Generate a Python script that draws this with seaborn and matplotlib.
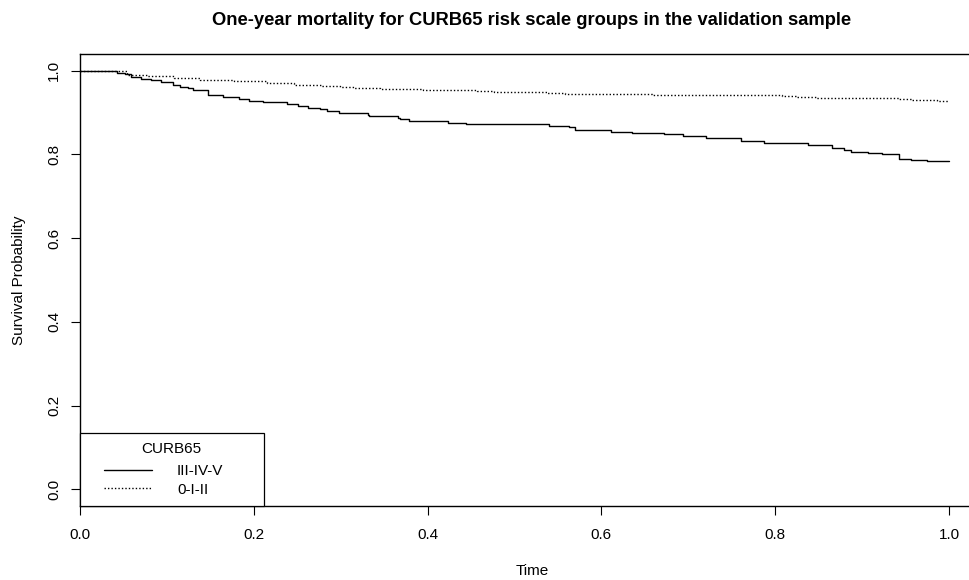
import matplotlib
matplotlib.use("Agg")
import matplotlib.pyplot as plt
import seaborn as sns
import pandas as pd
from matplotlib.lines import Line2D
from matplotlib.legend_handler import HandlerLine2D

# ---- data ----
high_time = [0.0, 0.043, 0.0525, 0.0594, 0.0701, 0.0816, 0.0931, 0.107, 0.115, 0.1246,
             0.1307, 0.1476, 0.1652, 0.1828, 0.1944, 0.2112, 0.238, 0.2507, 0.262, 0.276,
             0.284, 0.298, 0.331, 0.333, 0.366, 0.368, 0.379, 0.423, 0.444, 0.540,
             0.5624, 0.570, 0.611, 0.635, 0.6716, 0.6935, 0.7207, 0.760, 0.787, 0.838,
             0.865, 0.879, 0.8874, 0.907, 0.923, 0.942, 0.9557, 0.975, 1.0]
high_surv = [1.0, 0.995, 0.993, 0.985, 0.980, 0.977, 0.973, 0.967, 0.962, 0.958,
             0.953, 0.943, 0.938, 0.933, 0.927, 0.925, 0.920, 0.9155, 0.9115, 0.9075,
             0.9045, 0.900, 0.895, 0.891, 0.888, 0.884, 0.879, 0.875, 0.872, 0.8686,
             0.8645, 0.859, 0.854, 0.852, 0.848, 0.844, 0.839, 0.832, 0.827, 0.8215,
             0.816, 0.811, 0.8065, 0.8024, 0.800, 0.790, 0.7864, 0.7833, 0.7833]

low_time = [0.0, 0.054, 0.077, 0.108, 0.138, 0.177, 0.215, 0.246, 0.278, 0.299,
            0.315, 0.345, 0.395, 0.457, 0.476, 0.5375, 0.5585, 0.658, 0.808, 0.825,
            0.8465, 0.8637, 0.942, 0.957, 0.986, 1.0]
low_surv = [1.0, 0.991, 0.987, 0.982, 0.979, 0.976, 0.971, 0.966, 0.963, 0.961,
            0.958, 0.957, 0.9545, 0.952, 0.950, 0.947, 0.945, 0.9427, 0.940, 0.938,
            0.936, 0.934, 0.932, 0.930, 0.927, 0.927]

group_labels = ["III-IV-V", "0-I-II"]
legend_title = "CURB65"
title = "One-year mortality for CURB65 risk scale groups in the validation sample"
x_label = "Time"
y_label = "Survival Probability"
x_ticks = [0.0, 0.2, 0.4, 0.6, 0.8, 1.0]
y_ticks = [0.0, 0.2, 0.4, 0.6, 0.8, 1.0]

df_high = pd.DataFrame({"time": high_time, "surv": high_surv})
df_low = pd.DataFrame({"time": low_time, "surv": low_surv})

# ---- style ----
sns.set_style("white")
plt.rcParams["font.family"] = ["Liberation Sans", "DejaVu Sans"]
plt.rcParams["text.color"] = "black"
plt.rcParams["axes.labelcolor"] = "black"
plt.rcParams["xtick.color"] = "black"
plt.rcParams["ytick.color"] = "black"

FS = 11
DOTS = (0, (1, 1.5))

fig = plt.figure(figsize=(9.7, 5.8), dpi=100)
ax = fig.add_axes([0.0822, 0.1276, 0.9322, 0.7793])

sns.lineplot(data=df_high, x="time", y="surv", ax=ax, color="black",
             linewidth=1.0, linestyle="-", drawstyle="steps-post",
             estimator=None, sort=False)
sns.lineplot(data=df_low, x="time", y="surv", ax=ax, color="black",
             linewidth=1.0, linestyle=DOTS, drawstyle="steps-post",
             estimator=None, sort=False)

ax.set_xlim(0, 1.04)
ax.set_ylim(-0.04, 1.04)
ax.set_xticks(x_ticks)
ax.set_xticklabels([f"{v:.1f}" for v in x_ticks], fontsize=FS)
ax.set_yticks(y_ticks)
ax.set_yticklabels([f"{v:.1f}" for v in y_ticks], fontsize=FS, rotation=90, va="center")
ax.tick_params(axis="both", which="both", direction="out", length=6.5, width=0.8,
               color="black", left=True, bottom=True)
ax.tick_params(axis="x", pad=9)
ax.tick_params(axis="y", pad=7)

for side in ["top", "left", "bottom"]:
    ax.spines[side].set_visible(True)
    ax.spines[side].set_color("black")
    ax.spines[side].set_linewidth(1.0)
ax.spines["right"].set_visible(False)

ax.set_xlabel(x_label, fontsize=FS, labelpad=16)
ax.set_ylabel(y_label, fontsize=FS, labelpad=15)
ax.set_title(title, fontsize=13.2, fontweight="bold", pad=21)


class ShiftedLineHandler(HandlerLine2D):
    def __init__(self, shift, **kw):
        super().__init__(**kw)
        self.shift = shift

    def create_artists(self, legend, orig_handle, xdescent, ydescent, width,
                       height, fontsize, trans):
        return super().create_artists(legend, orig_handle, xdescent - self.shift,
                                      ydescent, width - self.shift, height,
                                      fontsize, trans)


handles = [Line2D([], [], color="black", linewidth=1.0, linestyle="-"),
           Line2D([], [], color="black", linewidth=1.0, linestyle=DOTS)]
hmap = {h: ShiftedLineHandler(10.5) for h in handles}
leg = ax.legend(handles, group_labels, title=legend_title, loc="lower left",
                bbox_to_anchor=(0, 0, 0.2035, 0.3), mode="expand",
                borderaxespad=0, fancybox=False, fontsize=FS, title_fontsize=FS,
                handlelength=4.14, handletextpad=1.6, labelspacing=0.275,
                borderpad=0.62, framealpha=1, handler_map=hmap)
leg._legend_box.sep = 0.54 * FS
leg.get_frame().set_edgecolor("black")
leg.get_frame().set_linewidth(0.9)

fig.savefig("out.png", dpi=100)
